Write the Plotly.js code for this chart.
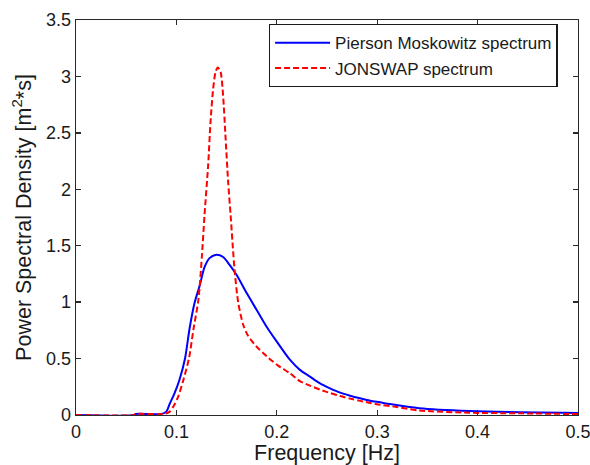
<!DOCTYPE html>
<html>
<head>
<meta charset="utf-8">
<script src="https://cdn.plot.ly/plotly-3.0.1.min.js"></script>
<style>html,body{margin:0;padding:0;background:#fff;}#chart{width:590px;height:465px;}</style>
</head>
<body>
<div id="chart"></div>
<script>
// Pierson Moskowitz spectrum
const pmFreq = [0, 0.058, 0.059, 0.085, 0.090, 0.0934, 0.098, 0.103, 0.1086, 0.113, 0.118, 0.1233, 0.128, 0.133, 0.140, 0.1465, 0.153, 0.160, 0.170, 0.180, 0.190, 0.200, 0.213, 0.223, 0.233, 0.243, 0.253, 0.263, 0.273, 0.283, 0.293, 0.303, 0.3125, 0.342, 0.392, 0.442, 0.485, 0.5];
const pmPSD  = [0, 0, 0.008, 0.01, 0.03, 0.10, 0.19, 0.31, 0.50, 0.76, 0.99, 1.15, 1.31, 1.39, 1.42, 1.40, 1.33, 1.24, 1.08, 0.93, 0.78, 0.65, 0.49, 0.40, 0.34, 0.28, 0.236, 0.198, 0.171, 0.148, 0.127, 0.112, 0.097, 0.06, 0.035, 0.024, 0.02, 0.018];

// JONSWAP spectrum
const jsFreq = [0, 0.058, 0.059, 0.088, 0.0934, 0.0967, 0.1017, 0.1066, 0.1125, 0.117, 0.1216, 0.1233, 0.1255, 0.128, 0.1316, 0.134, 0.1366, 0.139, 0.1412, 0.144, 0.1465, 0.149, 0.1515, 0.154, 0.1565, 0.158, 0.1615, 0.1665, 0.1715, 0.180, 0.190, 0.201, 0.213, 0.223, 0.233, 0.243, 0.253, 0.263, 0.273, 0.283, 0.293, 0.303, 0.3125, 0.342, 0.392, 0.442, 0.5];
const jsPSD  = [0, 0, 0.008, 0.01, 0.03, 0.07, 0.16, 0.30, 0.50, 0.76, 1.0, 1.15, 1.42, 1.77, 2.21, 2.60, 2.89, 3.04, 3.08, 3.04, 2.83, 2.45, 2.07, 1.77, 1.45, 1.28, 1.0, 0.80, 0.70, 0.605, 0.52, 0.44, 0.37, 0.30, 0.26, 0.225, 0.195, 0.168, 0.145, 0.125, 0.107, 0.090, 0.08, 0.04, 0.02, 0.015, 0.008];

const seriesNames = ['Pierson Moskowitz spectrum', 'JONSWAP spectrum'];
const xTicks = [0, 0.1, 0.2, 0.3, 0.4, 0.5];
const xTickText = ['0', '0.1', '0.2', '0.3', '0.4', '0.5'];
const yTicks = [0, 0.5, 1, 1.5, 2, 2.5, 3, 3.5];
const yTickText = ['0', '0.5', '1', '1.5', '2', '2.5', '3', '3.5'];

const font = 'Liberation Sans, Arial, Helvetica, sans-serif';

const traces = [
  {x: pmFreq, y: pmPSD, name: seriesNames[0], type: 'scatter', mode: 'lines',
   line: {color: '#0000ff', width: 2, shape: 'spline', smoothing: 0.8}},
  {x: jsFreq, y: jsPSD, name: seriesNames[1], type: 'scatter', mode: 'lines',
   line: {color: '#ff0000', width: 2, dash: '6px,3px', shape: 'spline', smoothing: 0.7}}
];

const axisCommon = {
  showgrid: false, zeroline: false, showline: true, linecolor: '#2a2a2a', linewidth: 1.3,
  mirror: 'allticks', ticks: 'inside', ticklen: 5, tickcolor: '#2a2a2a', tickwidth: 1.3,
  tickfont: {family: font, size: 18, color: '#1a1a1a'}, ticklabeloverflow: 'allow'
};

const layout = {
  width: 590, height: 465,
  margin: {l: 76, r: 12, t: 20, b: 50},
  paper_bgcolor: '#fff', plot_bgcolor: '#fff',
  font: {family: font, color: '#1a1a1a'},
  showlegend: true,
  legend: {x: 0.384, y: 0.99, xanchor: 'left', yanchor: 'top',
    bgcolor: '#fff', bordercolor: '#1a1a1a', borderwidth: 1.3,
    font: {family: font, size: 17, color: '#1a1a1a'}, itemwidth: 55, tracegroupgap: 0},
  xaxis: Object.assign({}, axisCommon, {
    range: [0, 0.5], tickvals: xTicks, ticktext: xTickText,
    title: {text: 'Frequency [Hz]', font: {family: font, size: 21.5, color: '#1a1a1a'}, standoff: 3}
  }),
  yaxis: Object.assign({}, axisCommon, {
    range: [0, 3.5], tickvals: yTicks, ticktext: yTickText,
    title: {text: 'Power Spectral Density [m<sup>2</sup>*s]', font: {family: font, size: 21.5, color: '#1a1a1a'}, standoff: 8}
  })
};

Plotly.newPlot('chart', traces, layout, {displayModeBar: false, staticPlot: true});
</script>
</body>
</html>
